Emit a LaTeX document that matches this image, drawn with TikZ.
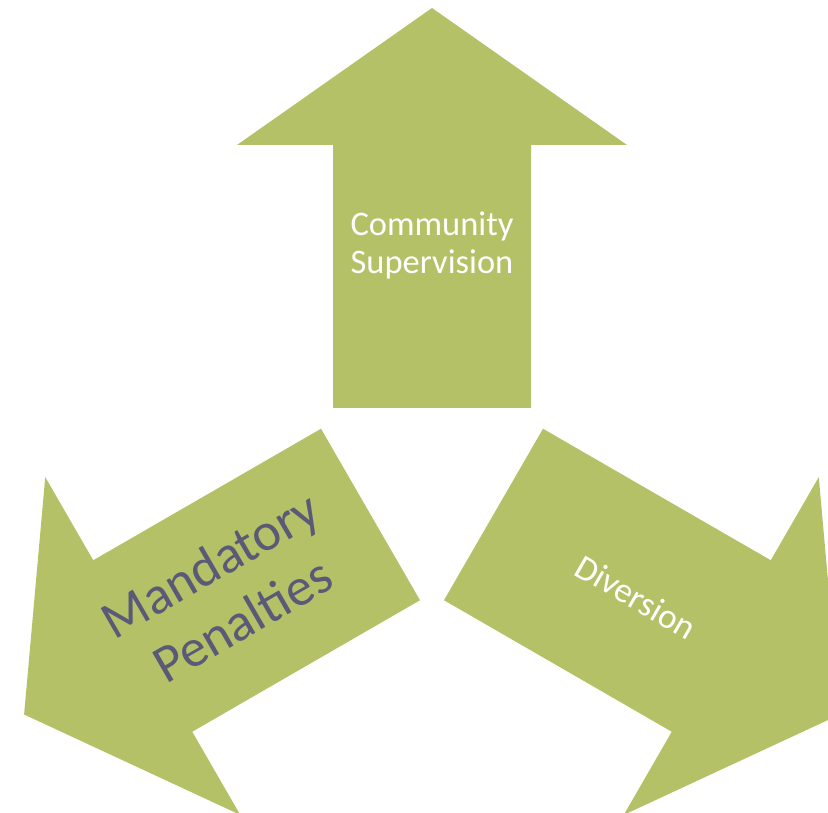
\documentclass[tikz,border=0pt]{standalone}
\usepackage{fontspec}
\setmainfont{Carlito}
\definecolor{armgreen}{HTML}{B5C166}
\definecolor{armtext}{HTML}{5A5A78}

\begin{document}
\begin{tikzpicture}[x=0.01cm,y=0.01cm]
\tikzset{ arm/.style={fill=armgreen},
  label/.style={align=center, inner sep=0pt}}
\useasboundingbox (0,0) rectangle (828,813);
\clip (0,0) rectangle (828,813);

% the three arrows, same shape turned about the centre
\foreach \ang in {0,120,-120}{
 \begin{scope}[shift={(432,334)}, rotate=\ang]
    \fill[arm] (-99,71) -- (99,71) -- (99,334) -- (195,334) -- (0,471) -- (-195,334) -- (-99,334) -- cycle;
 \end{scope}
}

\node[label, white, font=\fontsize{9.8}{10.8}\selectfont] (community) at (432,568) {Community\\Supervision};
\node[label, armtext, rotate=30, font=\fontsize{15.2}{18.2}\selectfont] (mandatory) at (226,221) {Mandatory\\Penalties};
\node[label, white, rotate=-30, font=\fontsize{10}{11}\selectfont] (diversion) at (636,216) {Diversion};
\end{tikzpicture}
\end{document}
